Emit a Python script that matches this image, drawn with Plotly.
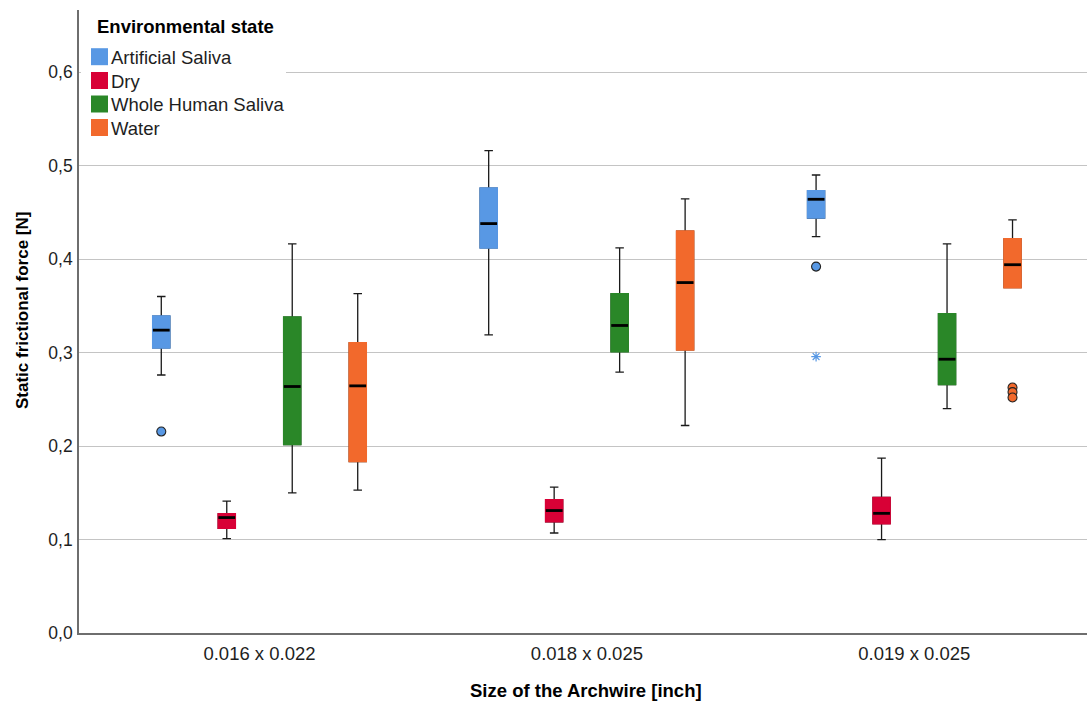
import plotly.graph_objects as go

# ---------------- data ----------------
sizes = ["0.016 x 0.022", "0.018 x 0.025", "0.019 x 0.025"]
states = ["Artificial Saliva", "Dry", "Whole Human Saliva", "Water"]
colors = ["#5898E4", "#D80136", "#2A8728", "#F2692C"]

as_lower = [0.276, 0.319, 0.424]
as_q1 = [0.305, 0.412, 0.444]
as_median = [0.324, 0.438, 0.464]
as_q3 = [0.339, 0.476, 0.473]
as_upper = [0.360, 0.516, 0.490]

dry_lower = [0.101, 0.107, 0.100]
dry_q1 = [0.112, 0.119, 0.117]
dry_median = [0.1235, 0.131, 0.128]
dry_q3 = [0.1275, 0.1425, 0.145]
dry_upper = [0.141, 0.156, 0.187]

whs_lower = [0.150, 0.279, 0.240]
whs_q1 = [0.2016, 0.301, 0.2658]
whs_median = [0.2637, 0.329, 0.2929]
whs_q3 = [0.338, 0.3628, 0.3414]
whs_upper = [0.4163, 0.412, 0.4163]

water_lower = [0.1528, 0.222, 0.3695]
water_q1 = [0.1834, 0.3029, 0.3695]
water_median = [0.2644, 0.3749, 0.394]
water_q3 = [0.3104, 0.430, 0.4216]
water_upper = [0.363, 0.4644, 0.442]

# outliers (group index, value)
as_out_group = [0, 2]
as_out_val = [0.2155, 0.392]
as_extreme_group = [2]
as_extreme_val = [0.2957]
water_out_group = [2, 2, 2]
water_out_val = [0.2626, 0.2577, 0.2519]

y_ticks = [0.0, 0.1, 0.2, 0.3, 0.4, 0.5, 0.6]
y_ticktext = ["0,0", "0,1", "0,2", "0,3", "0,4", "0,5", "0,6"]

# ---------------- layout constants ----------------
offsets = [-0.3, -0.1, 0.1, 0.3]
BOXW = 0.052
FONT = "Liberation Sans, Arial, Helvetica, sans-serif"
TXT = "#1e1e1e"

stats = [
    (as_lower, as_q1, as_median, as_q3, as_upper),
    (dry_lower, dry_q1, dry_median, dry_q3, dry_upper),
    (whs_lower, whs_q1, whs_median, whs_q3, whs_upper),
    (water_lower, water_q1, water_median, water_q3, water_upper),
]

fig = go.Figure()
groups = list(range(len(sizes)))

for k, (lo, q1, med, q3, hi) in enumerate(stats):
    xs = [g + offsets[k] for g in groups]
    # whiskers (black)
    fig.add_trace(go.Box(
        x=xs, q1=q1, median=med, q3=q3, lowerfence=lo, upperfence=hi,
        width=BOXW, whiskerwidth=0.5, fillcolor=colors[k],
        line=dict(color="#1a1a1a", width=1.3), showlegend=False,
        name=states[k], hoverinfo="skip"))
    # coloured box, no outline
    fig.add_trace(go.Box(
        x=xs, q1=q1, median=med, q3=q3, lowerfence=q1, upperfence=q3,
        width=BOXW, whiskerwidth=0, fillcolor=colors[k],
        line=dict(color=colors[k], width=1.6), showlegend=False,
        name=states[k]))
    # median line
    fig.add_trace(go.Scatter(
        x=xs, y=med, mode="markers", showlegend=False, hoverinfo="skip",
        marker=dict(symbol="line-ew", size=12,
                    line=dict(width=2.8, color="#000000"))))

# outliers
fig.add_trace(go.Scatter(
    x=[g + offsets[0] for g in as_out_group], y=as_out_val, mode="markers",
    showlegend=False,
    marker=dict(symbol="circle", size=9, color=colors[0],
                line=dict(width=1.1, color="#222222"))))
fig.add_trace(go.Scatter(
    x=[g + offsets[0] for g in as_extreme_group], y=as_extreme_val,
    mode="markers", showlegend=False,
    marker=dict(symbol="asterisk", size=8,
                line=dict(width=1.2, color=colors[0]))))
fig.add_trace(go.Scatter(
    x=[g + offsets[3] for g in water_out_group], y=water_out_val,
    mode="markers", showlegend=False,
    marker=dict(symbol="circle", size=9, color=colors[3],
                line=dict(width=1.1, color="#222222"))))

# ---------------- layout ----------------
L, T, W, H = 79, 10, 1008, 623


def px(xp):
    return (xp - L) / W


def py(yp):
    return (T + H - yp) / H


shapes = [dict(type="rect", xref="paper", yref="paper",
               x0=px(81), x1=px(286), y0=py(140), y1=py(11),
               fillcolor="white", line=dict(width=0), layer="above")]
annotations = [
    dict(text="<b>Environmental state</b>", xref="paper", yref="paper",
         x=px(95), y=py(26.5), xanchor="left", yanchor="middle",
         showarrow=False, font=dict(family=FONT, size=18.5, color="#000000")),
]
item_y = [56.7, 80.5, 104.0, 127.5]
for k, name in enumerate(states):
    shapes.append(dict(type="rect", xref="paper", yref="paper",
                       x0=px(91), x1=px(108),
                       y0=py(item_y[k] + 8.5), y1=py(item_y[k] - 8.5),
                       fillcolor=colors[k], line=dict(width=0), layer="above"))
    annotations.append(dict(text=name, xref="paper", yref="paper",
                            x=px(108.5), y=py(item_y[k] + 0.8),
                            xanchor="left", yanchor="middle",
                            showarrow=False,
                            font=dict(family=FONT, size=18.5, color=TXT)))

annotations.append(dict(text="<b>Static frictional force [N]</b>",
                        xref="paper", yref="paper", x=px(22), y=py(311),
                        xanchor="center", yanchor="middle", textangle=-90,
                        showarrow=False,
                        font=dict(family=FONT, size=17, color="#000000")))
annotations.append(dict(text="<b>Size of the Archwire [inch]</b>",
                        xref="paper", yref="paper", x=px(586), y=py(690),
                        xanchor="center", yanchor="middle",
                        showarrow=False,
                        font=dict(family=FONT, size=18.5, color="#000000")))

fig.update_layout(
    width=1087, height=702,
    margin=dict(l=L, r=0, t=T, b=702 - T - H, pad=0),
    paper_bgcolor="white", plot_bgcolor="white",
    boxmode="overlay",
    showlegend=False,
    shapes=shapes, annotations=annotations,
    xaxis=dict(range=[-0.5513, 2.5275], tickvals=groups, ticktext=sizes,
               showgrid=False, zeroline=False, showline=True,
               linecolor="#6e6e6e", linewidth=1.6, ticks="",
               ticklabelstandoff=3,
               tickfont=dict(family=FONT, size=18.5, color=TXT)),
    yaxis=dict(range=[0, 0.6665], tickvals=y_ticks, ticktext=y_ticktext,
               showgrid=True, gridcolor="#c4c4c4", gridwidth=1.4,
               zeroline=False, showline=True, linecolor="#6e6e6e",
               linewidth=1.6, ticks="", ticklabelstandoff=1,
               tickfont=dict(family=FONT, size=17.5, color=TXT)),
)

fig.write_html("out.html")
